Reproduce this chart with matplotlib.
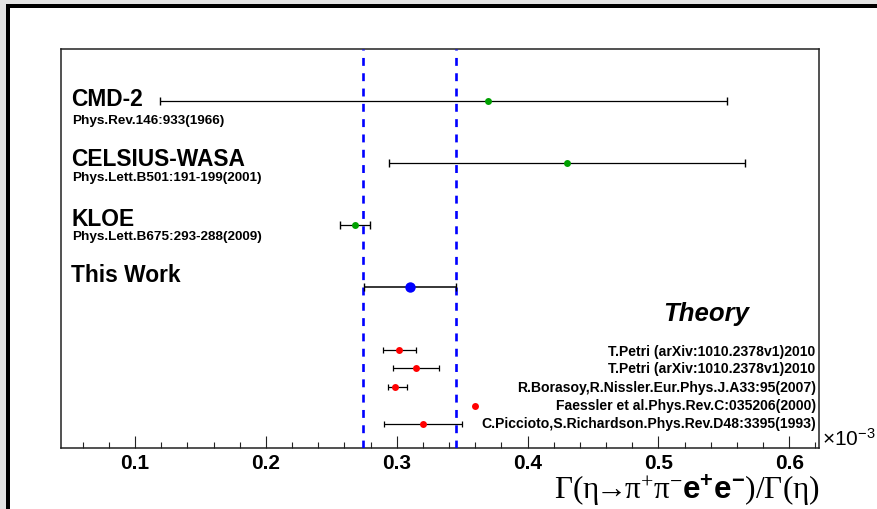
import matplotlib
matplotlib.use("Agg")
import matplotlib.pyplot as plt
from matplotlib.patches import Rectangle
from matplotlib.ticker import MultipleLocator, FormatStrFormatter
from matplotlib.transforms import blended_transform_factory

plt.rcParams['font.family'] = ['Liberation Sans', 'DejaVu Sans']
plt.rcParams['mathtext.fontset'] = 'custom'
plt.rcParams['mathtext.rm'] = 'Liberation Serif'
plt.rcParams['mathtext.it'] = 'Liberation Serif:italic'
plt.rcParams['mathtext.bf'] = 'Liberation Sans:bold'
plt.rcParams['mathtext.sf'] = 'Liberation Sans'

# Experimental measurements (units of 1e-3)
exp_names = ['CMD-2', 'CELSIUS-WASA', 'KLOE', 'This Work']
exp_refs = ['Phys.Rev.146:933(1966)', 'Phys.Lett.B501:191-199(2001)',
            'Phys.Lett.B675:293-288(2009)', '']
exp_values = [0.370, 0.430, 0.268, 0.310]
exp_err_lo = [0.251, 0.136, 0.0113, 0.035]
exp_err_hi = [0.1825, 0.1365, 0.0113, 0.035]

# Theoretical predictions (units of 1e-3)
theory_refs = ['T.Petri (arXiv:1010.2378v1)2010',
               'T.Petri (arXiv:1010.2378v1)2010',
               'R.Borasoy,R.Nissler.Eur.Phys.J.A33:95(2007)',
               'Faessler et al.Phys.Rev.C:035206(2000)',
               'C.Piccioto,S.Richardson.Phys.Rev.D48:3395(1993)']
theory_values = [0.302, 0.3145, 0.299, 0.360, 0.320]
theory_err_lo = [0.0125, 0.0175, 0.006, 0.0, 0.030]
theory_err_hi = [0.0125, 0.0175, 0.009, 0.0, 0.030]

# Range of this work's result
band_lo, band_hi = 0.2745, 0.3453

# Vertical layout (axes fraction)
exp_y = [0.8688, 0.7141, 0.5578, 0.4023]
exp_name_y = [0.857, 0.7057, 0.5553, 0.4148]
exp_ref_y = [0.811, 0.6689, 0.5202, 0.0]
theory_y = [0.2443, 0.1991, 0.1522, 0.1053, 0.0587]
theory_ref_y = [0.2300, 0.1866, 0.1405, 0.0946, 0.0487]

W, H = 878, 509
fig = plt.figure(figsize=(W / 100, H / 100), dpi=100)
fig.patch.set_facecolor('#e4e4e4')

# canvas with dark bevel on top and left
fig.patches.append(Rectangle((6 / W, 0), 1, (H - 4) / H, transform=fig.transFigure,
                             facecolor='white', edgecolor='none', zorder=-10))
fig.patches.append(Rectangle((6 / W, 0), 4 / W, (H - 4) / H, transform=fig.transFigure,
                             facecolor='black', edgecolor='none', zorder=-9))
fig.patches.append(Rectangle((6 / W, (H - 8) / H), 1, 4 / H, transform=fig.transFigure,
                             facecolor='black', edgecolor='none', zorder=-9))

ax = fig.add_axes([61 / W, (H - 447.7) / H, 757.7 / W, 398.7 / H])
ax.set_facecolor('white')
ax.set_xlim(0.0434, 0.6225)
ax.set_ylim(0, 1)

for sp in ax.spines.values():
    sp.set_color('#222222')
    sp.set_linewidth(1.1)

ax.xaxis.set_major_locator(MultipleLocator(0.1))
ax.xaxis.set_minor_locator(MultipleLocator(0.02))
ax.xaxis.set_major_formatter(FormatStrFormatter('%.1f'))
ax.tick_params(axis='x', which='major', direction='in', length=8.6, width=0.8,
               pad=4.5, labelsize=15, colors='#222222', labelcolor='black')
ax.tick_params(axis='x', which='minor', direction='in', length=4.3, width=0.8,
               colors='#222222')
for lab in ax.get_xticklabels():
    lab.set_fontweight('bold')
ax.set_yticks([])

# band of this work
for xv in (band_lo, band_hi):
    ax.axvline(xv, color='#0000ff', lw=1.9, dashes=(3.0, 2.8), zorder=3)

# experiments
green = '#00a000'
for i in range(len(exp_names)):
    is_this = exp_names[i] == 'This Work'
    ax.errorbar(exp_values[i], exp_y[i],
                xerr=[[exp_err_lo[i]], [exp_err_hi[i]]],
                fmt='o', color='#0000ff' if is_this else green,
                ms=7.5 if is_this else 5.0, mec='none',
                ecolor='black', elinewidth=1.1 if is_this else 0.9,
                capsize=3, capthick=1.0, zorder=4)

tr = blended_transform_factory(ax.transAxes, ax.transData)
for name, ny, ref, ry in zip(exp_names, exp_name_y, exp_refs, exp_ref_y):
    ax.text(0.0135, ny, name, transform=tr, fontsize=16.4, fontweight='bold',
            va='baseline', ha='left')
    if ref:
        ax.text(0.0150, ry, ref, transform=tr, fontsize=9.7, fontweight='bold',
                va='baseline', ha='left')

# theory
for i in range(len(theory_refs)):
    err = None
    if theory_err_lo[i] > 0 or theory_err_hi[i] > 0:
        err = [[theory_err_lo[i]], [theory_err_hi[i]]]
    ax.errorbar(theory_values[i], theory_y[i], xerr=err, fmt='o', color='#ff0000',
                ms=5.0, mec='none', ecolor='black', elinewidth=0.9,
                capsize=2.5, capthick=0.9, zorder=4)
    ax.text(0.996, theory_ref_y[i], theory_refs[i], transform=tr, fontsize=10.1,
            fontweight='bold', ha='right', va='baseline')

ax.text((706.5 - 61) / 757.7, 0.3185, 'Theory', transform=tr, fontsize=18.5,
        fontweight='bold', fontstyle='italic', ha='center', va='baseline')

# axis exponent and title
fig.text(822 / W, (H - 446) / H, r'$\mathsf{\times10^{-3}}$', fontsize=15,
         ha='left', va='baseline')
fig.text(820 / W, (H - 500) / H,
         r'$\mathrm{\Gamma(\eta\!\!\rightarrow\!\!\pi^{+}\pi^{-}}\mathbf{e^{+}e^{-}}\mathrm{)/\Gamma(\eta)}$',
         fontsize=22.5, ha='right', va='baseline')

fig.savefig('out.png', dpi=100, facecolor=fig.get_facecolor())
